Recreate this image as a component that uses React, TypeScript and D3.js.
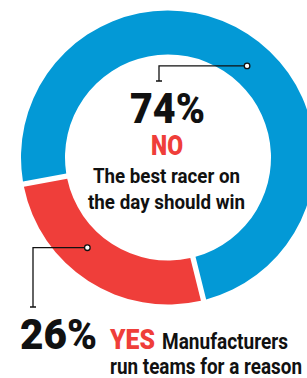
import { useRef, useEffect } from "react";
import * as d3 from "d3";

const answers = ["YES", "NO"];
const shares = [26, 74];
const colors = ["#ef3e3a", "#0399d6"];
const noCaption = ["The best racer on", "the day should win"];
const yesCaption = ["Manufacturers", "run teams for a reason"];

const W = 307;
const H = 378;
const FONT = "Roboto, 'DejaVu Sans Condensed', sans-serif";

const App = () => {
  const svgRef = useRef<SVGSVGElement>(null);

  useEffect(() => {
    const svg = d3.select(svgRef.current);
    svg.selectAll("*").remove();

    // donut geometry
    const cx = 168;
    const cy = 157.5;
    const outerR = 147;
    const innerR = 103;

    const start = (166 * Math.PI) / 180;
    const pie = d3
      .pie<number>()
      .sort(null)
      .startAngle(start)
      .endAngle(start + 2 * Math.PI);

    const arc = d3
      .arc<d3.PieArcDatum<number>>()
      .innerRadius(innerR)
      .outerRadius(outerR)
      .padAngle(0.03);

    const g = svg.append("g").attr("transform", `translate(${cx},${cy})`);

    g.selectAll("path")
      .data(pie(shares))
      .enter()
      .append("path")
      .attr("d", arc)
      .attr("fill", (d, i) => colors[i]);

    // leader lines
    const polar = (deg: number, r: number) => {
      const a = (deg * Math.PI) / 180;
      return [cx + r * Math.sin(a), cy - r * Math.cos(a)];
    };

    const leader = (deg: number, elbowX: number, endY: number) => {
      const [px, py] = polar(deg, 121);
      svg
        .append("path")
        .attr("d", `M${px},${py}H${elbowX}V${endY}M${elbowX - 3},${endY}H${elbowX + 3}`)
        .attr("fill", "none")
        .attr("stroke", "#111")
        .attr("stroke-width", 1.3);
      svg
        .append("circle")
        .attr("cx", px)
        .attr("cy", py)
        .attr("r", 2.8)
        .attr("fill", "#fff")
        .attr("stroke", "#111")
        .attr("stroke-width", 1.3);
    };
    leader(40.8, 159, 81);
    leader(221.8, 33, 307);

    // condensed look: squeeze each text to the width it has in the print
    const text = (
      x: number,
      y: number,
      s: string,
      size: number,
      len: number,
      fill = "#111",
      anchor = "middle",
      weight = 900
    ) =>
      svg
        .append("text")
        .attr("x", x)
        .attr("y", y)
        .attr("text-anchor", anchor)
        .attr("font-family", FONT)
        .attr("font-weight", weight)
        .attr("font-size", size)
        .attr("fill", fill)
        .attr("textLength", len)
        .attr("lengthAdjust", "spacingAndGlyphs")
        .text(s);

    // NO
    text(167.5, 123, `${shares[1]}%`, 43, 75);
    text(167, 155, answers[1], 28.5, 32, colors[0]);
    text(166.5, 182.5, noCaption[0], 21, 147, "#111", "middle", 700);
    text(166.5, 208.5, noCaption[1], 21, 157, "#111", "middle", 700);

    // YES
    text(20, 349, `${shares[0]}%`, 43, 77, "#111", "start");
    text(110, 349, answers[0], 27.5, 45, colors[0], "start");
    text(162, 349, yesCaption[0], 21.5, 126, "#111", "start", 700);
    text(110, 374, yesCaption[1], 21.5, 192, "#111", "start", 700);
  }, []);

  return (
    <svg
      ref={svgRef}
      width={W}
      height={H}
      style={{ position: "absolute", left: 0, top: 0, background: "#fff" }}
    ></svg>
  );
};

export default App;
